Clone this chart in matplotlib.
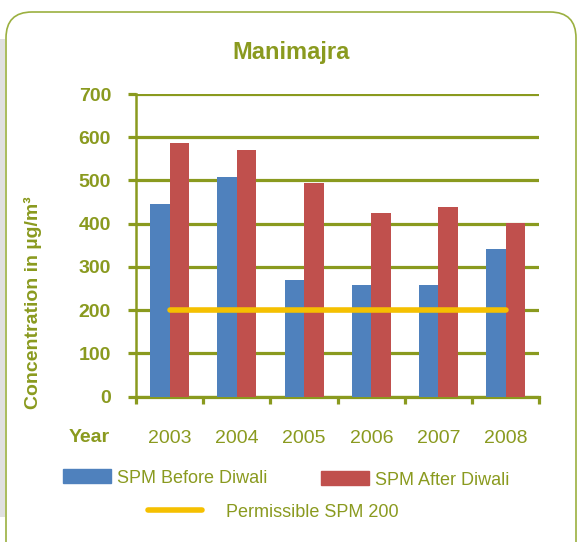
import numpy as np
import matplotlib
matplotlib.use('Agg')
import matplotlib.pyplot as plt
from matplotlib.patches import FancyBboxPatch, Rectangle, Patch
from matplotlib.lines import Line2D
from matplotlib.transforms import IdentityTransform

# data
years = ['2003', '2004', '2005', '2006', '2007', '2008']
spm_before = [446, 508, 270, 258, 258, 342]
spm_after = [587, 571, 494, 425, 439, 402]
permissible = [200, 200, 200, 200, 200, 200]

OLIVE = '#8A9A1F'
BLUE = '#4F81BD'
RED = '#C0504D'
YELLOW = '#F5C000'

plt.rcParams['font.family'] = ['Liberation Sans', 'DejaVu Sans']

W, H = 578, 542
fig = plt.figure(figsize=(W / 100, H / 100), dpi=100)

# grey strip at the left edge and rounded frame
fig.patches.append(Rectangle((0, H - 517), 5, 517 - 39, transform=IdentityTransform(),
                             facecolor='#e0e0e0', edgecolor='none'))
fig.patches.append(FancyBboxPatch((6, -40), 570, H - 12 + 40, transform=IdentityTransform(),
                                  boxstyle='round,pad=0,rounding_size=26',
                                  facecolor='none', edgecolor='#9BB040', linewidth=1.2))

left, right, bottom, top = 136, 539.3, 396.7, 94
ax = fig.add_axes([left / W, 1 - bottom / H, (right - left) / W, (bottom - top) / H])

x = np.arange(len(years))
bw = 0.29
ax.bar(x - bw / 2, spm_before, bw, color=BLUE, zorder=3)
ax.bar(x + bw / 2, spm_after, bw, color=RED, zorder=3)
ax.plot(x, permissible, color=YELLOW, linewidth=4, solid_capstyle='round', zorder=4)

ax.set_xlim(-0.5, len(years) - 0.5)
ax.set_ylim(0, 700)
ax.set_yticks(np.arange(0, 701, 100))
ax.grid(axis='y', color=OLIVE, linewidth=2.3, zorder=1)
ax.set_axisbelow(True)

for s in ['top', 'right']:
    ax.spines[s].set_visible(False)
ax.spines['left'].set_color(OLIVE)
ax.spines['left'].set_linewidth(1.8)
ax.spines['bottom'].set_color(OLIVE)
ax.spines['bottom'].set_linewidth(2.3)

ax.tick_params(axis='y', colors=OLIVE, length=6, width=2.3, pad=12, labelsize=14)
for lab in ax.get_yticklabels():
    lab.set_fontweight('bold')

# boundaries as ticks, year labels in the middle
ax.set_xticks(np.arange(-0.5, len(years), 1))
ax.set_xticklabels([])
ax.set_xticks(x, minor=True)
ax.set_xticklabels(years, minor=True)
ax.tick_params(axis='x', which='major', colors=OLIVE, length=5, width=2.3)
ax.tick_params(axis='x', which='minor', length=0, pad=24, labelsize=14, labelcolor=OLIVE)

fig.text(291.5 / W, 1 - 53 / H, 'Manimajra', ha='center', va='center',
         fontsize=17, fontweight='bold', color=OLIVE)
fig.text(89.5 / W, 1 - 437 / H, 'Year', ha='center', va='center',
         fontsize=14, fontweight='bold', color=OLIVE)
fig.text(33 / W, 1 - 303 / H, 'Concentration in µg/m³', rotation=90, ha='center', va='center',
         fontsize=14, fontweight='bold', color=OLIVE)

def legend_at(handle, label, px, py, hl, pad):
    lg = fig.legend([handle], [label], loc='center left', bbox_to_anchor=(px / W, 1 - py / H),
                    frameon=False, borderpad=0, borderaxespad=0, handlelength=hl,
                    handleheight=0.78, handletextpad=pad, fontsize=13, labelcolor=OLIVE)
    return lg

legend_at(Patch(color=BLUE), 'SPM Before Diwali', 62.7, 478, 2.66, 0.33)
legend_at(Patch(color=RED), 'SPM After Diwali', 321, 480, 2.66, 0.33)
legend_at(Line2D([], [], color=YELLOW, linewidth=4, solid_capstyle='round'),
          'Permissible SPM 200', 148, 512, 3.0, 1.33)

fig.savefig('out.png', dpi=100)
